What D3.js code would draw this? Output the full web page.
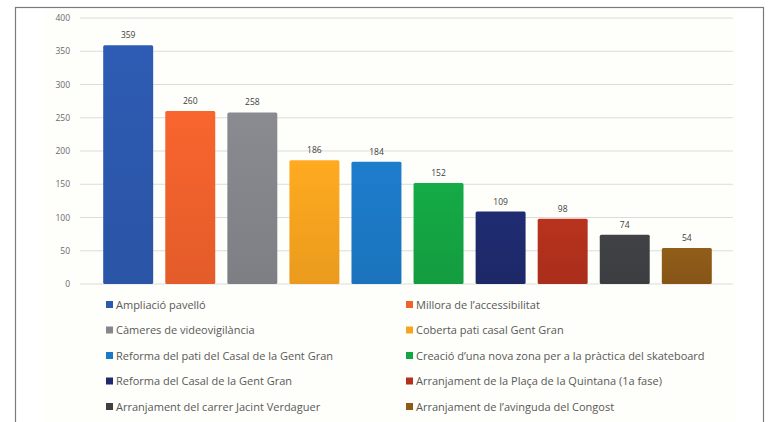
<!DOCTYPE html>
<html><head><meta charset="utf-8">
<script src="https://cdn.jsdelivr.net/npm/d3@7"></script>
<style>
html,body{margin:0;padding:0;background:#fff;}
svg{display:block;}
</style></head>
<body>
<svg id="c" width="774" height="422"></svg>
<script>
const categories = [
  "Ampliació pavelló",
  "Millora de l’accessibilitat",
  "Càmeres de videovigilància",
  "Coberta pati casal Gent Gran",
  "Reforma del pati del Casal de la Gent Gran",
  "Creació d’una nova zona per a la pràctica del skateboard",
  "Reforma del Casal de la Gent Gran",
  "Arranjament de la Plaça de la Quintana (1a fase)",
  "Arranjament del carrer Jacint Verdaguer",
  "Arranjament de l’avinguda del Congost"
];
const values = [359, 260, 258, 186, 184, 152, 109, 98, 74, 54];
const colors = ["#2C59AE", "#F0612C", "#84868B", "#F7A41F", "#1C79C6", "#14A544", "#1F2A6E", "#B2311C", "#3E4044", "#8D5A18"];
const yTicks = [0, 50, 100, 150, 200, 250, 300, 350, 400];

const svg = d3.select("#c");
const font = "'Open Sans', 'Liberation Sans', sans-serif";

// outer frame
svg.append("rect").attr("x", 15.5).attr("y", 7.5).attr("width", 748).attr("height", 430)
  .attr("fill", "#fff").attr("stroke", "#7a7a7a").attr("stroke-width", 1.2);
// chart area
svg.append("rect").attr("x", 43).attr("y", 10).attr("width", 694).attr("height", 420)
  .attr("fill", "#fefefa");

const y = d3.scaleLinear().domain([0, 400]).range([284, 18]);
const x = d3.scaleBand().domain(categories).range([97, 718]).paddingInner(0.195).paddingOuter(0.1);

// gridlines
svg.append("g").selectAll("line").data(yTicks).join("line")
  .attr("x1", 80).attr("x2", 733)
  .attr("y1", d => y(d)).attr("y2", d => y(d))
  .attr("stroke", "#dcdcdc").attr("stroke-width", 1);

// y axis labels
const yAxis = d3.axisLeft(y).tickValues(yTicks).tickSize(0).tickPadding(0);
const ga = svg.append("g").attr("transform", "translate(70,0)").call(yAxis);
ga.select(".domain").remove();
ga.selectAll("text").attr("font-family", font).attr("font-size", 8.5).attr("fill", "#6a6a6a");

// gradients
const defs = svg.append("defs");
colors.forEach((c, i) => {
  const g = defs.append("linearGradient").attr("id", "g" + i)
    .attr("x1", 0).attr("y1", 0).attr("x2", 0).attr("y2", 1);
  g.append("stop").attr("offset", "0%").attr("stop-color", d3.color(c).brighter(0.1));
  g.append("stop").attr("offset", "100%").attr("stop-color", d3.color(c).darker(0.15));
});

// bars
svg.append("g").selectAll("rect").data(values).join("rect")
  .attr("x", (d, i) => x(categories[i]))
  .attr("y", d => y(d))
  .attr("width", x.bandwidth())
  .attr("height", d => y(0) - y(d))
  .attr("rx", 1.5)
  .attr("fill", (d, i) => "url(#g" + i + ")");

// value labels
svg.append("g").selectAll("text").data(values).join("text")
  .attr("x", (d, i) => x(categories[i]) + x.bandwidth() / 2)
  .attr("y", d => y(d) - 7)
  .attr("text-anchor", "middle")
  .attr("font-family", font).attr("font-size", 8.5).attr("fill", "#404040")
  .text(d => d);

// legend
const lg = svg.append("g");
categories.forEach((c, i) => {
  const col = i % 2, row = Math.floor(i / 2);
  const lx = col === 0 ? 106 : 406;
  const ly = 305 + row * 25.5;
  lg.append("rect").attr("x", lx).attr("y", ly - 4).attr("width", 7).attr("height", 7).attr("fill", colors[i]);
  lg.append("text").attr("x", lx + 10).attr("y", ly).attr("dy", "0.35em")
    .attr("font-family", font).attr("font-size", 11).attr("fill", "#595959")
    .text(c);
});
</script>
</body></html>
